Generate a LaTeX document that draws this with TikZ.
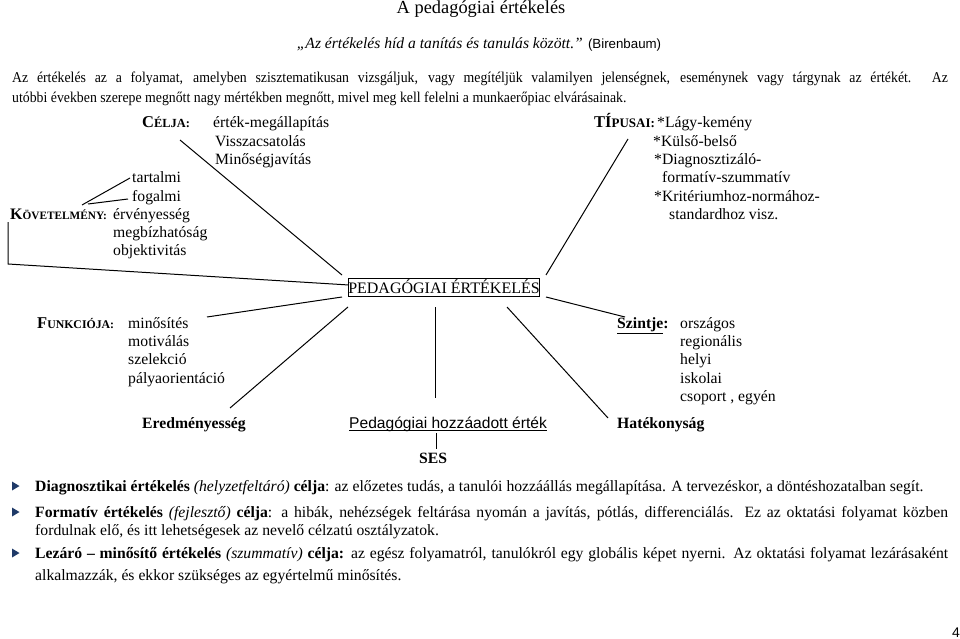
\documentclass[tikz,border=0pt]{standalone}
\usepackage{graphicx}
\usepackage{fontspec}
\setmainfont{Liberation Serif}
\setsansfont{Liberation Sans}
\newcommand\fsz[1]{\fontsize{#1}{#1}\selectfont}
\newcommand\scb[4]{\textbf{{\fsz{#1}#3}{\fsz{#2}#4}}}
\definecolor{bulletblue}{HTML}{1F3A68}
\begin{document}
\begin{tikzpicture}[x=1pt,y=-1pt,
  lbl/.style={anchor=base west,inner sep=0pt,font=\fsz{15.7}},
  ctr/.style={anchor=base,inner sep=0pt},
  con/.style={draw=black,line width=1pt},
  bul/.style={fill=bulletblue,draw=none},
  bodytxt/.style={anchor=base west,inner sep=0pt,font=\fsz{15.7}},
  paratxt/.style={anchor=base west,inner sep=0pt,font=\fsz{15}},
]
\useasboundingbox (0,0) rectangle (960,639);
% header
\node[ctr,font=\fsz{18.4}] (title) at (481,14) {A pedagógiai értékelés};
\node[ctr,font=\fsz{15.6}] (quote) at (479,49) {\textit{„Az értékelés híd a tanítás és tanulás között.”} {\sffamily\fsz{13.3}(Birenbaum)}};
\node[paratxt] (p1) at (12,83) {\scalebox{0.92}[1]{\makebox[1017pt][s]{Az értékelés az a folyamat, amelyben szisztematikusan vizsgáljuk, vagy megítéljük valamilyen jelenségnek, eseménynek vagy tárgynak az értékét. Az}}};
\node[paratxt] (p2) at (12,103) {\scalebox{0.92}[1]{utóbbi években szerepe megnőtt nagy mértékben megnőtt, mivel meg kell felelni a munkaerőpiac elvárásainak.}};

% central box
\node[draw=black,line width=0.8pt,minimum width=190pt,minimum height=18pt,inner sep=0pt,font=\fsz{16}] (box) at (444,287) {PEDAGÓGIAI ÉRTÉKELÉS};

% Célja
\node[lbl] (celja) at (142,128) {\scb{16.5}{12.4}{C}{ÉLJA:}};
\node[lbl] (c1) at (213,128) {érték-megállapítás};
\node[lbl] (c2) at (215,146.5) {Visszacsatolás};
\node[lbl] (c3) at (215,164.5) {Minőségjavítás};

% Követelmény
\node[lbl] (k1) at (132,182.5) {tartalmi};
\node[lbl] (k2) at (132,201) {fogalmi};
\node[lbl] (kov) at (10,219) {\scb{16}{11.3}{K}{ÖVETELMÉNY:}};
\node[lbl] (k3) at (113,219) {érvényesség};
\node[lbl] (k4) at (113,237) {megbízhatóság};
\node[lbl] (k5) at (113,255) {objektivitás};

% Típusai
\node[lbl] (tip) at (594,128) {\scb{16.5}{13}{TÍ}{PUSAI:}};
\node[lbl] (t1) at (657,128) {*Lágy-kemény};
\node[lbl] (t2) at (653,146.5) {*Külső-belső};
\node[lbl] (t3) at (654,164.5) {*Diagnosztizáló-};
\node[lbl] (t4) at (662,182.5) {formatív-szummatív};
\node[lbl] (t5) at (654,201) {*Kritériumhoz-normához-};
\node[lbl] (t6) at (669,219) {standardhoz visz.};

% Funkciója
\node[lbl] (fun) at (37,328) {\scb{16.5}{11.8}{F}{UNKCIÓJA:}};
\node[lbl] (f1) at (128,328) {minősítés};
\node[lbl] (f2) at (128,346.5) {motiválás};
\node[lbl] (f3) at (128,364.5) {szelekció};
\node[lbl] (f4) at (128,383) {pályaorientáció};

% Szintje
\node[lbl] (szi) at (617,328) {\textbf{\underline{Szintje}:}};
\node[lbl] (s1) at (680,328) {országos};
\node[lbl] (s2) at (680,346.5) {regionális};
\node[lbl] (s3) at (680,364.5) {helyi};
\node[lbl] (s4) at (680,383) {iskolai};
\node[lbl] (s5) at (680,401) {csoport , egyén};

% bottom row
\node[lbl] (ered) at (142,428) {\textbf{Eredményesség}};
\node[lbl,font=\sffamily\fsz{15.6}] (hozz) at (349,428) {Pedagógiai hozzáadott érték};
\draw[line width=0.8pt] ([yshift=-2.5pt]hozz.base west) -- ([yshift=-2.5pt]hozz.base east);
\node[lbl] (hat) at (617,428) {\textbf{Hatékonyság}};
\node[lbl] (ses) at (419,463) {\textbf{SES}};

% connector coordinates
\coordinate (celjaE) at (180,140);
\coordinate (boxCelja) at (342,275);
\coordinate (kovE) at (8,222);
\coordinate (kovB) at (8,264);
\coordinate (boxKov) at (349,285);
\coordinate (kovT) at (82,205);
\coordinate (tartE) at (130,178);
\coordinate (kovF) at (88,204);
\coordinate (fogE) at (128,199);
\coordinate (tipE) at (628,139);
\coordinate (boxTip) at (546,275);
\coordinate (boxFun) at (342,297);
\coordinate (funE) at (207,317);
\coordinate (boxEred) at (348,307);
\coordinate (eredE) at (230,408);
\coordinate (boxHozz) at (435,307);
\coordinate (hozzE) at (435,398);
\coordinate (boxHat) at (507,307);
\coordinate (hatE) at (608,418);
\coordinate (boxSzi) at (546,297);
\coordinate (sziE) at (625,317);
\coordinate (hozzS) at (436,433);
\coordinate (sesE) at (436,449);

\draw[con] (celjaE) -- (boxCelja);
\draw[con] (kovE) -- (kovB) -- (boxKov);
\draw[con] (kovT) -- (tartE);
\draw[con] (kovF) -- (fogE);
\draw[con] (tipE) -- (boxTip);
\draw[con] (boxFun) -- (funE);
\draw[con] (boxEred) -- (eredE);
\draw[con] (boxHozz) -- (hozzE);
\draw[con] (boxHat) -- (hatE);
\draw[con] (boxSzi) -- (sziE);
\draw[con] (hozzS) -- (sesE);

% bullets
\foreach \yy in {486,512,553}{
  \path[bul] (12,\yy-4.5) -- (19.5,\yy) -- (12,\yy+4.5) -- cycle;
}
\node[bodytxt] (d1) at (35,491) {\textbf{Diagnosztikai értékelés} \textit{(helyzetfeltáró)} \textbf{célja}: az előzetes tudás, a tanulói hozzáállás megállapítása. A tervezéskor, a döntéshozatalban segít.};
\node[bodytxt] (d2) at (35,517) {\makebox[913pt][s]{\textbf{Formatív értékelés} \textit{(fejlesztő)} \textbf{célja}: a hibák, nehézségek feltárása nyomán a javítás, pótlás, differenciálás. Ez az oktatási folyamat közben}};
\node[bodytxt] (d3) at (35,535) {fordulnak elő, és itt lehetségesek az nevelő célzatú osztályzatok.};
\node[bodytxt] (d4) at (35,558) {\makebox[913pt][s]{\textbf{Lezáró – minősítő értékelés} \textit{(szummatív)} \textbf{célja:} az egész folyamatról, tanulókról egy globális képet nyerni. Az oktatási folyamat lezárásaként}};
\node[bodytxt] (d5) at (35,580) {alkalmazzák, és ekkor szükséges az egyértelmű minősítés.};

\node[anchor=base east,inner sep=0pt,font=\sffamily\fsz{14}] (pg) at (960,637) {4};
\end{tikzpicture}
\end{document}
